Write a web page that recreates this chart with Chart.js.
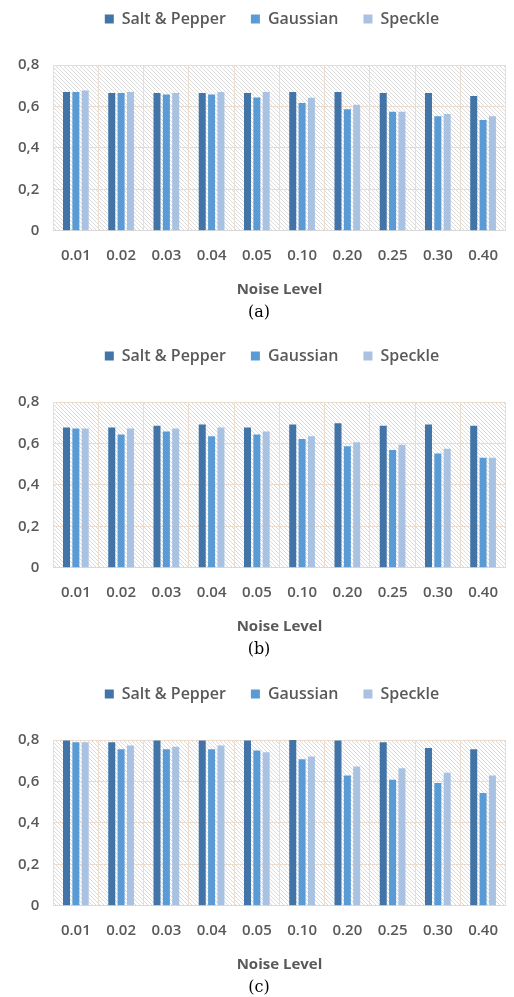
<!DOCTYPE html>
<html lang="en">
<head>
    <meta charset="UTF-8">
    <title>Noise Level Charts</title>
    <script src="https://cdn.jsdelivr.net/npm/chart.js"></script>
    <style>
        html, body { margin: 0; padding: 0; background: #fff; }
        body { width: 514px; height: 997px; position: relative; overflow: hidden; }
        .panel { position: absolute; left: 0; width: 514px; height: 338px; }
    </style>
</head>
<body>
    <div class="panel" style="top:-14px"><canvas id="chartA"></canvas></div>
    <div class="panel" style="top:323px"><canvas id="chartB"></canvas></div>
    <div class="panel" style="top:661px"><canvas id="chartC"></canvas></div>
    <script>
        // Noise levels on the x axis
        const noiseLevels = ['0.01', '0.02', '0.03', '0.04', '0.05', '0.10', '0.20', '0.25', '0.30', '0.40'];
        const yTicks = [0, 0.2, 0.4, 0.6, 0.8];

        // (a)
        const saltA    = [0.670, 0.665, 0.665, 0.665, 0.665, 0.670, 0.670, 0.665, 0.665, 0.650];
        const gaussA   = [0.670, 0.665, 0.658, 0.658, 0.643, 0.617, 0.586, 0.575, 0.553, 0.535];
        const speckleA = [0.677, 0.670, 0.665, 0.670, 0.670, 0.642, 0.608, 0.575, 0.563, 0.553];

        // (b)
        const saltB    = [0.677, 0.677, 0.686, 0.691, 0.677, 0.691, 0.698, 0.685, 0.691, 0.685];
        const gaussB   = [0.672, 0.643, 0.658, 0.635, 0.643, 0.622, 0.587, 0.568, 0.552, 0.531];
        const speckleB = [0.672, 0.672, 0.672, 0.677, 0.658, 0.635, 0.606, 0.594, 0.574, 0.531];

        // (c)
        const saltC    = [0.797, 0.789, 0.797, 0.797, 0.797, 0.800, 0.797, 0.789, 0.762, 0.755];
        const gaussC   = [0.789, 0.755, 0.755, 0.755, 0.749, 0.707, 0.629, 0.608, 0.592, 0.544];
        const speckleC = [0.789, 0.774, 0.768, 0.774, 0.741, 0.720, 0.672, 0.664, 0.642, 0.629];

        const seriesNames = ['Salt & Pepper', 'Gaussian', 'Speckle'];
        const seriesColors = ['#4374a7', '#5b9bd5', '#aac2e2'];

        const textGray = '#595959';
        const gridColor = '#ecdccd';
        const uiFont = 'Open Sans';

        // diagonal hatch fill behind the plot area
        const makeHatch = () => {
            const c = document.createElement('canvas');
            c.width = 4; c.height = 4;
            const g = c.getContext('2d');
            g.fillStyle = '#ffffff';
            g.fillRect(0, 0, 4, 4);
            g.strokeStyle = '#dadada';
            g.lineWidth = 1;
            g.beginPath();
            g.moveTo(-1, -1); g.lineTo(5, 5);
            g.moveTo(-1, 3); g.lineTo(1, 5);
            g.moveTo(3, -1); g.lineTo(5, 1);
            g.stroke();
            return g.createPattern(c, 'repeat');
        };

        const hatchPlugin = {
            id: 'hatch',
            afterInit(chart) {
                const legend = chart.legend;
                // extra gap under the legend
                const fit = legend.fit.bind(legend);
                legend.fit = function () { fit(); this.height += 28; };
                // legend sits a bit right of the canvas centre
                const draw = legend.draw.bind(legend);
                legend.draw = function () {
                    chart.ctx.save();
                    chart.ctx.translate(13, 0);
                    draw();
                    chart.ctx.restore();
                };
            },
            beforeDraw(chart) {
                const { ctx, chartArea } = chart;
                ctx.save();
                ctx.fillStyle = makeHatch();
                ctx.fillRect(chartArea.left, chartArea.top, chartArea.right - chartArea.left, chartArea.bottom - chartArea.top);
                ctx.restore();
            }
        };

        const makeChart = (id, salt, gauss, speckle, caption) => {
            const values = [salt, gauss, speckle];
            return new Chart(document.getElementById(id), {
                type: 'bar',
                data: {
                    labels: noiseLevels,
                    datasets: seriesNames.map((name, i) => ({
                        label: name,
                        data: values[i],
                        backgroundColor: seriesColors[i],
                        categoryPercentage: 0.62,
                        barPercentage: 0.75,
                    }))
                },
                options: {
                    responsive: true,
                    maintainAspectRatio: false,
                    animation: false,
                    layout: { padding: { top: 0, left: 4, right: 0, bottom: 2 } },
                    plugins: {
                        legend: {
                            position: 'top',
                            labels: {
                                boxWidth: 9,
                                boxHeight: 9,
                                padding: 25,
                                color: textGray,
                                font: { family: uiFont, size: 16, weight: '600' },
                            }
                        },
                        title: {
                            display: true,
                            text: caption,
                            position: 'bottom',
                            color: '#000',
                            font: { family: 'DejaVu Serif', size: 16, weight: 'normal' },
                            padding: { top: 4, bottom: 0 },
                        },
                        tooltip: { enabled: false },
                    },
                    scales: {
                        x: {
                            grid: { color: gridColor, offset: true, drawTicks: false },
                            border: { color: '#d9d9d9' },
                            ticks: {
                                color: textGray,
                                padding: 16,
                                maxRotation: 0,
                                font: { family: uiFont, size: 15, weight: '600' },
                            },
                            title: {
                                display: true,
                                text: 'Noise Level',
                                color: textGray,
                                font: { family: uiFont, size: 15, weight: 'bold' },
                                padding: { top: 0, bottom: 0 },
                            }
                        },
                        y: {
                            min: 0,
                            max: 0.8,
                            afterBuildTicks: (axis) => { axis.ticks = yTicks.map(v => ({ value: v })); },
                            grid: { color: gridColor, drawTicks: false },
                            border: { display: false },
                            ticks: {
                                color: textGray,
                                padding: 14,
                                font: { family: uiFont, size: 15, weight: '600' },
                                callback: (v) => v === 0 ? '0' : v.toFixed(1).replace('.', ','),
                            }
                        }
                    }
                },
                plugins: [hatchPlugin]
            });
        };

        makeChart('chartA', saltA, gaussA, speckleA, '(a)');
        makeChart('chartB', saltB, gaussB, speckleB, '(b)');
        makeChart('chartC', saltC, gaussC, speckleC, '(c)');
    </script>
</body>
</html>
